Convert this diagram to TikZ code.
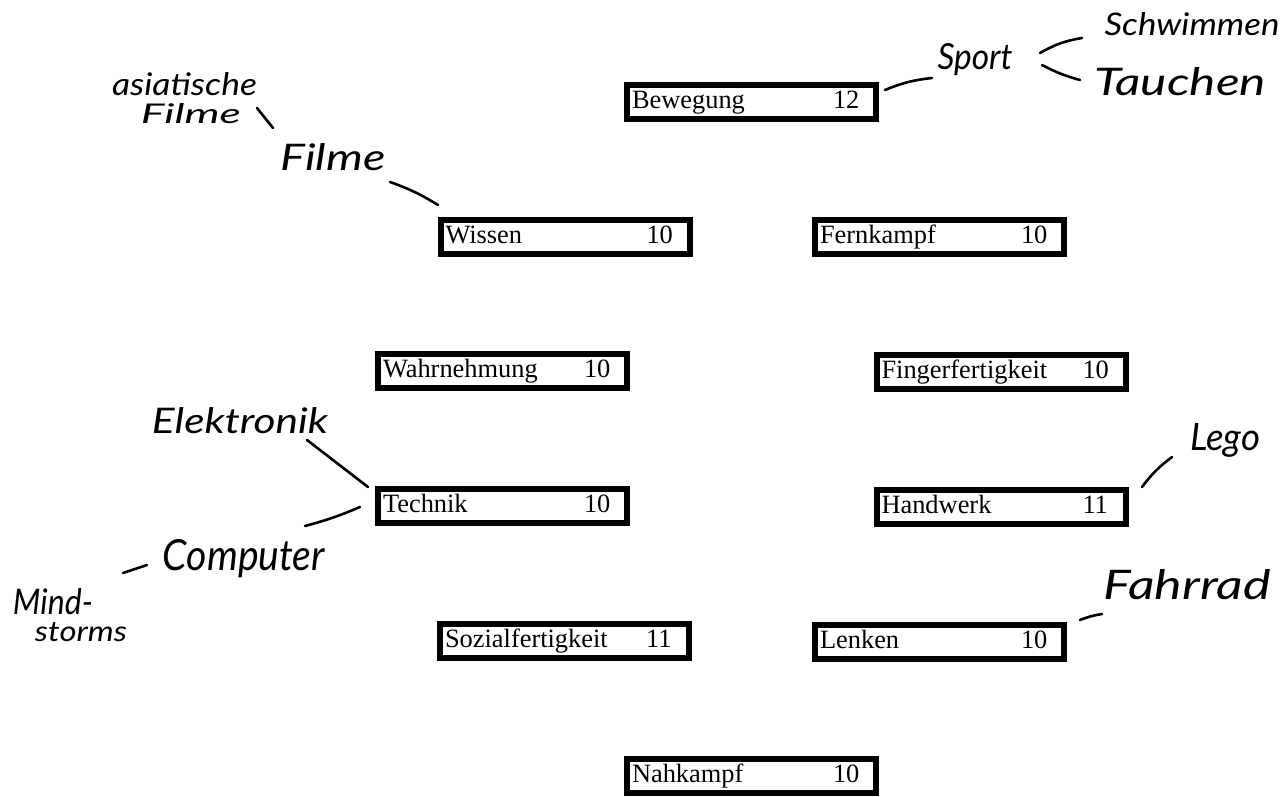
\documentclass[tikz,border=0pt]{standalone}
\usepackage{fontspec}
\setmainfont{Liberation Serif}
\newfontfamily\handfont{Lato}
\usetikzlibrary{calc}
\newcommand\hw[3]{\resizebox{#1pt}{#2pt}{#3}}
\newcommand\bx[2]{\makebox[201pt][l]{#1}#2}
\tikzset{
  skillbox/.style={draw, line width=6pt, minimum width=249pt, minimum height=34pt,
    inner xsep=5pt, inner ysep=0pt, text width=239pt, align=left,
    text height=18pt, text depth=5pt, font=\fontsize{26.4}{30}\selectfont},
  handtext/.style={anchor=base, inner sep=0pt, font=\handfont\itshape\fontsize{32}{34}\selectfont},
  handline/.style={line width=2.6pt, line cap=round}
}
\begin{document}
\begin{tikzpicture}[x=1pt,y=-1pt]
\useasboundingbox[fill=white] (0,0) rectangle (1288,796);
% skill boxes
\node[skillbox] (bew)  at (751.5,101.5) {\bx{Bewegung}{12}};
\node[skillbox] (wis)  at (565,236.5)   {\bx{Wissen}{10}};
\node[skillbox] (fern) at (939.5,236.5) {\bx{Fernkampf}{10}};
\node[skillbox] (wahr) at (502.5,370.5) {\bx{Wahrnehmung}{10}};
\node[skillbox] (fing) at (1001,372)    {\bx{Fingerfertigkeit}{10}};
\node[skillbox] (tech) at (502.5,506)   {\bx{Technik}{10}};
\node[skillbox] (hand) at (1001,507)    {\bx{Handwerk}{11}};
\node[skillbox] (soz)  at (564.5,641)   {\bx{Sozialfertigkeit}{11}};
\node[skillbox] (lenk) at (939.5,641.5) {\bx{Lenken}{10}};
\node[skillbox] (nah)  at (751.5,776)   {\bx{Nahkampf}{10}};
% handwritten notes
\node[handtext] (sport) at (975,69)   {\hw{75}{26}{Sport}};
\node[handtext] (schw)  at (1192,35)  {\hw{175}{23}{Schwimmen}};
\node[handtext] (tauch) at (1180,95)  {\hw{172}{28}{Tauchen}};
\node[handtext] (asia1) at (184.5,95) {\hw{145}{23}{asiatische}};
\node[handtext] (asia2) at (191,123)  {\hw{100}{20}{Filme}};
\node[handtext] (filme) at (333,170)  {\hw{105}{27}{Filme}};
\node[handtext] (elek)  at (240,433)  {\hw{176}{26}{Elektronik}};
\node[handtext] (comp)  at (244,570)  {\hw{162}{31}{Computer}};
\node[handtext] (mind)  at (53,614)   {\hw{80}{26}{Mind-}};
\node[handtext] (storm) at (81,641)   {\hw{92}{19}{storms}};
\node[handtext] (lego)  at (1225,450) {\hw{70}{27}{Lego}};
\node[handtext] (fahr)  at (1187,599) {\hw{167}{30}{Fahrrad}};
% connectors
\draw[handline] ($(bew.center)+(133.5,-11.5)$) to[bend left=8] ($(sport.base)+(-43,9)$);
\draw[handline] ($(sport.base)+(65,-16)$) to[bend left=10] ($(schw.base)+(-110,3)$);
\draw[handline] ($(sport.base)+(67,-4)$) to[bend left=-6] ($(tauch.base)+(-100,-15)$);
\draw[handline] ($(asia2.base)+(66,-15)$) -- ($(filme.base)+(-60,-42)$);
\draw[handline] ($(filme.base)+(57,12)$) to[bend left=6] ($(wis.center)+(-127,-31.5)$);
\draw[handline] ($(elek.base)+(67,7)$) -- ($(tech.center)+(-134.5,-19)$);
\draw[handline] ($(tech.center)+(-142.5,1)$) to[bend left=4] ($(comp.base)+(61,-44)$);
\draw[handline] ($(comp.base)+(-97,-5)$) -- ($(mind.base)+(70,-41)$);
\draw[handline] ($(hand.center)+(141,-20)$) to[bend left=8] ($(lego.base)+(-53,7)$);
\draw[handline] ($(lenk.center)+(140.5,-21.5)$) to[bend left=6] ($(fahr.base)+(-85,15)$);
\end{tikzpicture}
\end{document}
